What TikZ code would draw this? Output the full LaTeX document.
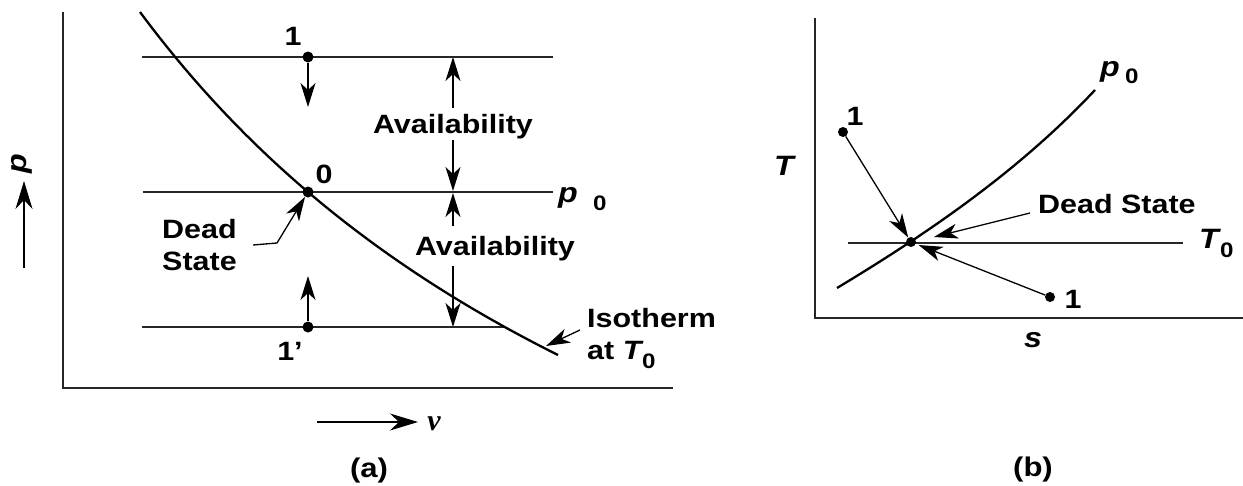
\documentclass[tikz,border=0pt]{standalone}
\usepackage{fontspec}
\setmainfont{Liberation Sans}
\newfontfamily\lab[FakeStretch=1.15]{Liberation Sans}
\newfontfamily\serfont{Liberation Serif}
\usetikzlibrary{arrows.meta}
\begin{document}
\begin{tikzpicture}[x=1pt,y=-1pt,
  axisline/.style={line width=1.7pt,draw=black!85},
  isoline/.style={line width=2.3pt},
  hline/.style={line width=1.7pt,draw=black!85},
  arr/.style={line width=1.3pt,-{Stealth[length=24pt,width=15pt,inset=7pt]}},
  bigarr/.style={line width=1.3pt,-{Stealth[length=28pt,width=17pt,inset=9pt]}},
  dot/.style={circle,fill=black,inner sep=0pt,minimum size=11pt},
  sdot/.style={circle,fill=black,inner sep=0pt,minimum size=10pt},
  txt/.style={font=\lab\bfseries\fontsize{26.5}{31}\selectfont,inner sep=0pt},
  mtxt/.style={font=\lab\bfseries\itshape\fontsize{28}{31}\selectfont,inner sep=0pt},
  subtxt/.style={font=\lab\bfseries\fontsize{21}{24}\selectfont,inner sep=0pt}
]
\useasboundingbox (0,0) rectangle (1243,485);

% ---------------- (a) ----------------
\coordinate (Atop) at (63,12);
\coordinate (Aorig) at (63,388);
\coordinate (Aright) at (673,388);
\draw[axisline] (Atop) -- (Aorig) -- (Aright);

\coordinate (L1a) at (142,57);  \coordinate (L1b) at (553,57);
\coordinate (L0a) at (143,192); \coordinate (L0b) at (553,192);
\coordinate (L2a) at (142,327); \coordinate (L2b) at (505,327);
\draw[hline] (L1a) -- (L1b);
\draw[hline] (L0a) -- (L0b);
\draw[hline] (L2a) -- (L2b);

% isotherm (hyperbola pv = const)
\draw[isoline] plot[domain=140:558,samples=80,smooth]
  (\x,{888.2-5693.55/((\x+509.8)/100)});

\node[dot] (A1) at (308,57) {};
\node[dot] (A0) at (308,192) {};
\node[dot] (A1p) at (308,327) {};

\node[txt,anchor=base] (lA1) at (293,45) {1};
\node[txt,anchor=base] (lA0) at (324,183) {0};
\node[txt,anchor=base] (lA1p) at (290,360) {1\textquoteright};

\coordinate (A1d) at (308,107);
\coordinate (A1pu) at (308,276);
\draw[arr] (A1) -- (A1d);
\draw[arr] (A1p) -- (A1pu);

% availability
\node[txt,anchor=base] (av1) at (453,133) {Availability};
\node[txt,anchor=base] (av2) at (495,255) {Availability};
\coordinate (v1t) at (453,57);
\coordinate (v1s) at (453,108);
\coordinate (v1m) at (453,140);
\coordinate (v1b) at (453,191);
\coordinate (v2t) at (453,193);
\coordinate (v2s) at (453,226);
\coordinate (v2m) at (453,266);
\coordinate (v2b) at (453,327);
\draw[arr] (v1s) -- (v1t);
\draw[arr] (v1m) -- (v1b);
\draw[arr] (v2s) -- (v2t);
\draw[arr] (v2m) -- (v2b);

% p0 label
\node[mtxt,anchor=base west] (pA) at (558,202) {p};
\node[subtxt,anchor=base west] (pA0) at (593,210) {0};

% Dead State (a)
\node[txt,anchor=base west] (dsA1) at (162,238) {Dead};
\node[txt,anchor=base west] (dsA2) at (162,270) {State};
\coordinate (dsAs) at (253,245);
\coordinate (dsAk) at (277,243);
\draw[line width=1.3pt,-{Stealth[length=24pt,width=15pt,inset=7pt]}] (dsAs) -- (dsAk) -- (A0);

% Isotherm
\node[txt,anchor=base west] (iso1) at (587,327) {Isotherm};
\node[txt,anchor=base west] (iso2) at (587,359) {at \textit{T}};
\node[subtxt,anchor=base west] (iso3) at (642,368) {0};
\coordinate (isoS) at (580,330);
\coordinate (isoT) at (546,346);
\draw[arr] (isoS) -- (isoT);

% axis arrows
\coordinate (pS) at (24,268);
\coordinate (pT) at (24,181);
\draw[bigarr] (pS) -- (pT);
\node[mtxt,rotate=90] (plab) at (22,164) {p};
\coordinate (vS) at (317,422);
\coordinate (vT) at (418,422);
\draw[bigarr] (vS) -- (vT);
\node[font=\serfont\bfseries\itshape\fontsize{30}{32}\selectfont,inner sep=0pt,anchor=base] (vlab) at (434,430) {v};

\node[txt,font=\lab\bfseries\fontsize{27}{31}\selectfont] (capA) at (369,471) {(a)};

% ---------------- (b) ----------------
\coordinate (Btop) at (815,18);
\coordinate (Borig) at (815,318);
\coordinate (Bright) at (1243,318);
\draw[axisline] (Btop) -- (Borig) -- (Bright);

\coordinate (T0a) at (848,243);
\coordinate (T0b) at (1183,243);
\draw[hline] (T0a) -- (T0b);

\draw[isoline] (837,288) .. controls (930,232) and (1020,170) .. (1095,90);

\node[sdot] (B0) at (911,242) {};
\node[sdot] (B1u) at (843,132) {};
\node[sdot] (B1l) at (1050,297) {};

\node[txt,anchor=base] (lB1u) at (855,125) {1};
\node[txt,anchor=base] (lB1l) at (1073,308) {1};

\draw[arr] (B1u) -- (B0);
\draw[arr,shorten >=3pt] (B1l) -- (B0);

\node[txt,anchor=base west] (dsB) at (1038,213) {Dead State};
\coordinate (dsBs) at (1030,213);
\coordinate (dsBt) at (934,237);
\draw[arr] (dsBs) -- (dsBt);

\node[mtxt,anchor=base west] (TB) at (1199,248) {T};
\node[subtxt,anchor=base west] (TB0) at (1220,257) {0};
\node[mtxt,anchor=base west] (pB) at (1100,76) {p};
\node[subtxt,anchor=base west] (pB0) at (1125,83) {0};

\node[mtxt] (Tlab) at (784,166) {T};
\node[mtxt] (slab) at (1033,340) {s};
\node[txt,font=\lab\bfseries\fontsize{27}{31}\selectfont] (capB) at (1033,470) {(b)};
\end{tikzpicture}
\end{document}
